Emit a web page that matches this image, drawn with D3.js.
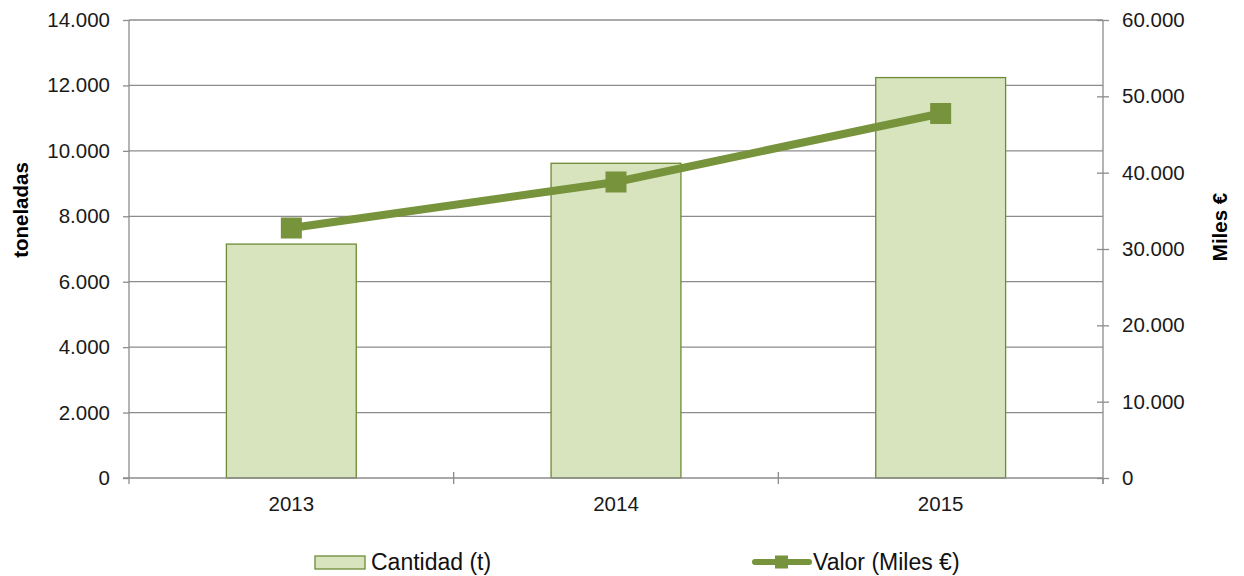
<!DOCTYPE html>
<html lang="es">
<head>
<meta charset="UTF-8">
<title>Cantidad y valor</title>
<script src="https://cdnjs.cloudflare.com/ajax/libs/d3/7.8.5/d3.min.js"></script>
<style>
    body { margin: 0; background: #fff; }
    svg { display: block; font-family: Arial, "Liberation Sans", sans-serif; }
    .tick text { font-size: 20.5px; fill: #1a1a1a; }
    .domain, .tick line { stroke: #8c8c8c; stroke-width: 1.3; }
    .grid line { stroke: #8c8c8c; stroke-width: 1.3; }
    .title { font-size: 20.5px; font-weight: bold; fill: #000; }
    .legend text { font-size: 23px; fill: #111; }
</style>
</head>
<body>
<script>
    // data
    var years = ["2013", "2014", "2015"];
    var cantidad = [7150, 9620, 12240];
    var valor = [32750, 38780, 47750];
    var leftTicks = [0, 2000, 4000, 6000, 8000, 10000, 12000, 14000];
    var rightTicks = [0, 10000, 20000, 30000, 40000, 50000, 60000];

    var width = 1244, height = 576;
    var plot = {left: 129, right: 1103, top: 20, bottom: 478};

    var fmt = function(v) { return v === 0 ? "0" : d3.format(",")(v).replace(/,/g, "."); };

    var svg = d3.select("body").append("svg")
        .attr("width", width)
        .attr("height", height);

    var x = d3.scaleBand()
        .domain(years)
        .range([plot.left, plot.right])
        .paddingInner(0.6)
        .paddingOuter(0.3);

    // band edges for ticks on x axis
    var step = (plot.right - plot.left) / years.length;

    var yL = d3.scaleLinear().domain([0, 14000]).range([plot.bottom, plot.top]);
    var yR = d3.scaleLinear().domain([0, 60000]).range([plot.bottom, plot.top]);

    // gridlines
    svg.append("g").attr("class", "grid")
        .selectAll("line")
        .data(leftTicks.filter(function(d) { return d > 0; }))
        .enter().append("line")
        .attr("x1", plot.left).attr("x2", plot.right)
        .attr("y1", function(d) { return yL(d); })
        .attr("y2", function(d) { return yL(d); });

    // left axis
    svg.append("g")
        .attr("transform", "translate(" + plot.left + ",0)")
        .call(d3.axisLeft(yL).tickValues(leftTicks).tickFormat(fmt).tickSize(6).tickPadding(13))
        .call(function(g) { g.select(".domain").attr("d", "M0," + plot.top + "V" + plot.bottom); });

    // right axis, ticks cross the line
    var gR = svg.append("g")
        .attr("transform", "translate(" + plot.right + ",0)")
        .call(d3.axisRight(yR).tickValues(rightTicks).tickFormat(fmt).tickSize(6).tickPadding(13));
    gR.select(".domain").attr("d", "M0," + plot.top + "V" + (plot.bottom + 6));
    gR.selectAll(".tick line").attr("x1", -6);

    // bars
    svg.append("g")
        .selectAll("rect")
        .data(cantidad)
        .enter().append("rect")
        .attr("x", function(d, i) { return x(years[i]); })
        .attr("width", x.bandwidth())
        .attr("y", function(d) { return yL(d); })
        .attr("height", function(d) { return yL(0) - yL(d); })
        .attr("fill", "#d7e4bd")
        .attr("stroke", "#6e8a36")
        .attr("stroke-width", 1.3);

    // x axis
    var gX = svg.append("g")
        .attr("transform", "translate(0," + plot.bottom + ")");
    gX.append("line")
        .attr("x1", plot.left - 6).attr("x2", plot.right)
        .attr("stroke", "#8c8c8c").attr("stroke-width", 1.3);
    gX.selectAll(".xt")
        .data(d3.range(years.length + 1))
        .enter().append("line")
        .attr("x1", function(i) { return plot.left + i * step; })
        .attr("x2", function(i) { return plot.left + i * step; })
        .attr("y1", function(i) { return (i === 0 || i === years.length) ? 0 : -6; })
        .attr("y2", 6)
        .attr("stroke", "#8c8c8c").attr("stroke-width", 1.3);
    gX.selectAll("text")
        .data(years)
        .enter().append("text")
        .attr("x", function(d) { return x(d) + x.bandwidth() / 2; })
        .attr("y", 33)
        .attr("text-anchor", "middle")
        .attr("font-size", 20.5)
        .attr("fill", "#1a1a1a")
        .text(function(d) { return d; });

    // line series
    var line = d3.line()
        .x(function(d, i) { return x(years[i]) + x.bandwidth() / 2; })
        .y(function(d) { return yR(d); });

    svg.append("path")
        .datum(valor)
        .attr("d", line)
        .attr("fill", "none")
        .attr("stroke", "#77933c")
        .attr("stroke-width", 8);

    svg.append("g")
        .selectAll("rect")
        .data(valor)
        .enter().append("rect")
        .attr("x", function(d, i) { return x(years[i]) + x.bandwidth() / 2 - 10.5; })
        .attr("y", function(d) { return yR(d) - 10.5; })
        .attr("width", 21)
        .attr("height", 21)
        .attr("fill", "#77933c");

    // axis titles
    svg.append("text")
        .attr("class", "title")
        .attr("transform", "translate(28,210) rotate(-90)")
        .attr("text-anchor", "middle")
        .text("toneladas");

    svg.append("text")
        .attr("class", "title")
        .attr("transform", "translate(1227,227) rotate(-90)")
        .attr("text-anchor", "middle")
        .text("Miles €");

    // legend
    var lg = svg.append("g").attr("class", "legend");
    lg.append("rect")
        .attr("x", 315).attr("y", 556)
        .attr("width", 50).attr("height", 13)
        .attr("fill", "#d7e4bd").attr("stroke", "#6e8a36").attr("stroke-width", 1.3);
    lg.append("text").attr("x", 371).attr("y", 570).text("Cantidad (t)");

    lg.append("line")
        .attr("x1", 755).attr("x2", 809)
        .attr("y1", 562).attr("y2", 562)
        .attr("stroke", "#77933c").attr("stroke-width", 6).attr("stroke-linecap", "round");
    lg.append("rect")
        .attr("x", 775).attr("y", 555.5)
        .attr("width", 13).attr("height", 13)
        .attr("fill", "#77933c");
    lg.append("text").attr("x", 813).attr("y", 570).text("Valor (Miles €)");
</script>
</body>
</html>
